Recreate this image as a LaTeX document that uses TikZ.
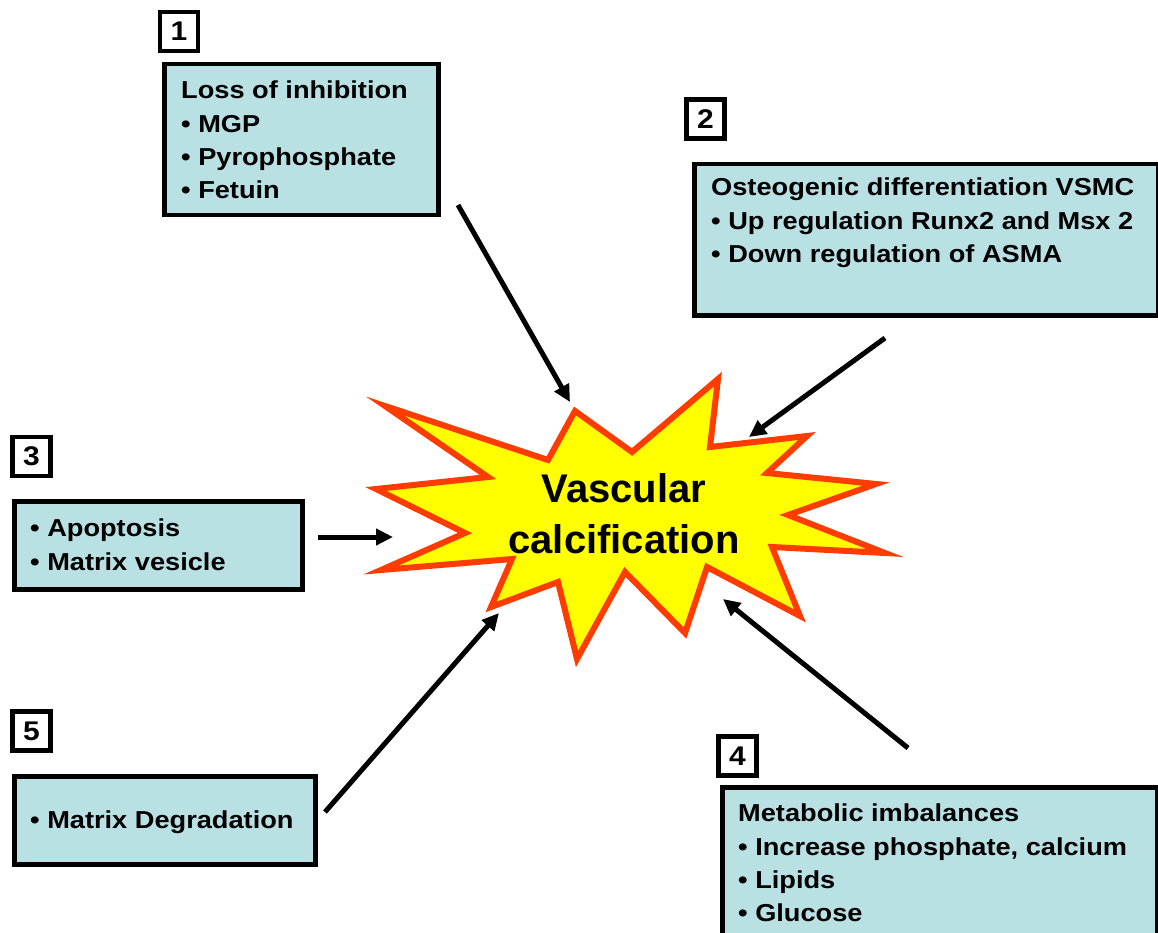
\documentclass[tikz,border=0pt]{standalone}
\usepackage{fontspec}
\setmainfont{Liberation Sans}
\newfontfamily\boxfont[FakeStretch=1.11]{Liberation Sans}
\usetikzlibrary{arrows.meta}
\definecolor{boxblue}{RGB}{185,224,227}
\definecolor{starred}{RGB}{255,60,0}
\definecolor{staryellow}{RGB}{255,255,0}
\begin{document}
\begin{tikzpicture}[x=1pt,y=-1pt,
  infobox/.style={draw=black, line width=4.5pt, fill=boxblue, rectangle, inner sep=0pt, anchor=north west},
  numbox/.style={draw=black, line width=4.5pt, fill=white, inner sep=0pt, minimum width=38pt, minimum height=39pt, font=\boxfont\bfseries\fontsize{27}{30}\selectfont},
  boxtext/.style={anchor=north west, inner sep=0pt, align=left, font=\boxfont\bfseries\fontsize{24.5}{33.3}\selectfont},
  feed/.style={line width=5pt, -{Triangle[length=17pt,width=16pt]}},
  burst/.style={draw=starred, fill=staryellow, line width=6pt, line join=miter},
  centertext/.style={anchor=north, inner sep=0pt, align=center, font=\bfseries\fontsize{40}{51}\selectfont}
]
\useasboundingbox (0,0) rectangle (1158,933);
\clip (0,0) rectangle (1158,933);

% starburst
\draw[burst] (385,406) -- (488,477) -- (376,489) -- (465,533) -- (381,570) -- (512,559)
  -- (491,607) -- (558,582) -- (577,659) -- (625,572) -- (685,633) -- (707,567)
  -- (800,616) -- (772,547) -- (885,553) -- (788,515) -- (876,484) -- (767,473)
  -- (807,436) -- (710,447) -- (718,379) -- (632,452) -- (575,411) -- (548,460) -- cycle;
\node[centertext] (vc) at (624,473) {Vascular\\calcification};

% boxes
\node[infobox, minimum width=274pt, minimum height=151pt] (b1) at (162,62) {};
\node[boxtext] (t1) at (181,81) {Loss of inhibition\\• MGP\\• Pyrophosphate\\• Fetuin};
\node[numbox] (n1) at (179,31.5) {1};

\node[infobox, minimum width=464pt, minimum height=151pt] (b2) at (692,162) {};
\node[boxtext] (t2) at (711,178) {Osteogenic differentiation VSMC\\• Up regulation Runx2 and Msx 2\\• Down regulation of ASMA};
\node[numbox] (n2) at (705.5,119) {2};

\node[infobox, minimum width=288pt, minimum height=88pt] (b3) at (12,499) {};
\node[boxtext] (t3) at (30,519) {• Apoptosis\\• Matrix vesicle};
\node[numbox] (n3) at (31.5,456.5) {3};

\node[infobox, minimum width=301pt, minimum height=88pt] (b5) at (12,774) {};
\node[boxtext] (t5) at (30,811) {• Matrix Degradation};
\node[numbox] (n5) at (31.5,731) {5};

\node[infobox, minimum width=435pt, minimum height=170pt] (b4) at (720,785) {};
\node[boxtext] (t4) at (738,804) {Metabolic imbalances\\• Increase phosphate, calcium\\• Lipids\\• Glucose};
\node[numbox] (n4) at (737.5,756) {4};

% arrows
\coordinate (a1s) at (458,205); \coordinate (a1e) at (570,402);
\coordinate (a2s) at (885,338); \coordinate (a2e) at (749,437);
\coordinate (a3s) at (318,537); \coordinate (a3e) at (393,537);
\coordinate (a4s) at (908,748); \coordinate (a4e) at (723,599);
\coordinate (a5s) at (325,812); \coordinate (a5e) at (499,613);
\draw[feed] (a1s) -- (a1e);
\draw[feed] (a2s) -- (a2e);
\draw[feed] (a3s) -- (a3e);
\draw[feed] (a4s) -- (a4e);
\draw[feed] (a5s) -- (a5e);
\end{tikzpicture}
\end{document}
